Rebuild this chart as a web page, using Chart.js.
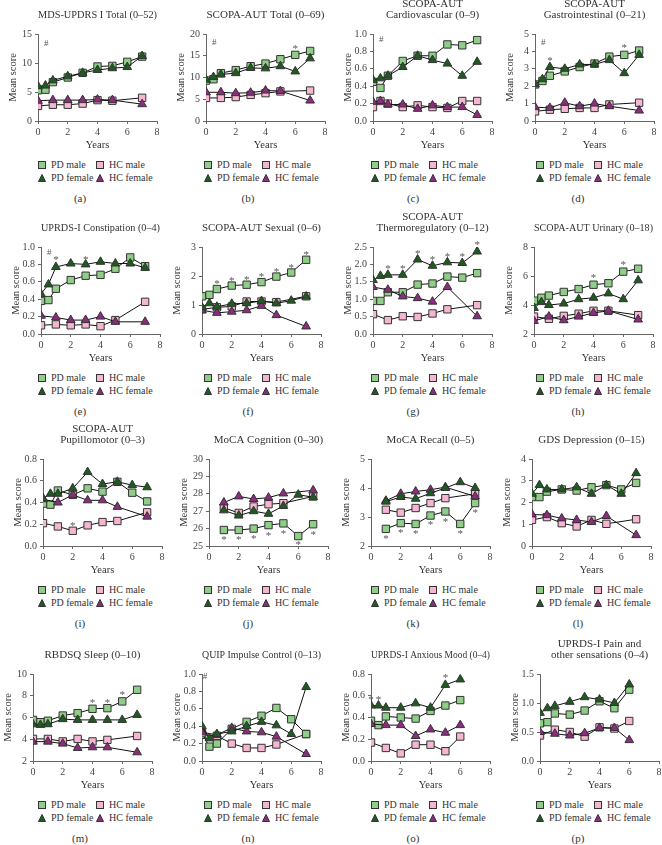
<!DOCTYPE html>
<html>
<head>
<meta charset="utf-8">
<script src="https://cdn.jsdelivr.net/npm/chart.js@4.4.1/dist/chart.umd.min.js"></script>
<style>
  body { margin: 0; background: #fff; }
  #fig { position: relative; width: 662px; height: 845px; overflow: hidden; font-family: "Liberation Serif", serif; color: #333; }
  #fig canvas { position: absolute; }
  .legend { position: absolute; display: grid; grid-template-columns: 58px auto; font-size: 10px; line-height: 13px; white-space: nowrap; }
  .legend svg { vertical-align: -1px; margin-right: 5px; }
  .caption { position: absolute; width: 40px; margin-left: -20px; text-align: center; font-size: 11px; line-height: 14px; }
</style>
</head>
<body>
<div id="fig"></div>
<script>
// visits: baseline, 6 months, then yearly
const years = [0, 0.5, 1, 2, 3, 4, 5, 6, 7];

// (a) MDS-UPDRS I Total
const updrsPdM = [5.3, 5.4, 6.7, 7.5, 8.3, 9.4, 9.5, 10.2, 11.1];
const updrsPdF = [6.0, 6.1, 7.0, 7.7, 8.3, 8.8, 9.1, 9.3, 11.2];
const updrsHcM = [2.6, null, 2.8, 2.8, 3.0, 3.6, 3.5, null, 4.0];
const updrsHcF = [3.5, null, 3.6, 3.6, 3.6, 3.7, 3.6, null, 2.9];
const updrsMarks = [['#', 0.55, 13.4]];

// (b) SCOPA-AUT Total
const scopaPdM = [9.3, 9.6, 11.0, 11.7, 12.6, 13.2, 14.2, 15.2, 16.1];
const scopaPdF = [9.5, 10.1, 10.7, 11.0, 12.2, 12.1, 12.6, 11.4, 14.4];
const scopaHcM = [5.3, null, 5.3, 5.5, 6.0, 6.4, 6.8, null, 7.0];
const scopaHcF = [6.6, null, 6.6, 6.4, 6.5, 7.0, 6.9, null, 4.7];
const scopaMarks = [['#', 0.55, 18.1], ['*', 6, 17.0]];

// (c) Cardiovascular
const cardioPdM = [0.45, 0.38, 0.52, 0.69, 0.75, 0.75, 0.88, 0.87, 0.93];
const cardioPdF = [0.47, 0.49, 0.52, 0.62, 0.75, 0.70, 0.66, 0.52, 0.68];
const cardioHcM = [0.16, 0.23, 0.20, 0.16, 0.18, 0.16, 0.15, 0.23, 0.23];
const cardioHcF = [0.22, 0.23, 0.19, 0.19, 0.14, 0.18, 0.16, 0.16, 0.07];
const cardioMarks = [['#', 0.55, 0.94]];

// (d) Gastrointestinal
const gastroPdM = [2.1, 2.3, 2.6, 2.85, 3.1, 3.3, 3.7, 3.8, 4.05];
const gastroPdF = [2.1, 2.4, 3.1, 3.0, 3.25, 3.25, 3.5, 2.75, 3.8];
const gastroHcM = [0.55, null, 0.65, 0.7, 0.75, 0.75, 0.95, null, 1.05];
const gastroHcF = [0.8, null, 0.75, 1.05, 0.85, 1.0, 0.85, null, 0.6];
const gastroMarks = [['#', 0.55, 4.5], ['*', 1, 3.55], ['*', 6, 4.3]];

// (e) Constipation
const constipPdM = [0.38, 0.39, 0.52, 0.62, 0.67, 0.68, 0.75, 0.88, 0.78];
const constipPdF = [0.46, 0.57, 0.77, 0.81, 0.80, 0.83, 0.81, 0.81, 0.76];
const constipHcM = [0.10, null, 0.11, 0.10, 0.11, 0.09, 0.16, null, 0.37];
const constipHcF = [0.21, null, 0.19, 0.16, 0.16, 0.20, 0.14, null, 0.14];
const constipMarks = [['#', 0.55, 0.94], ['*', 1, 0.87], ['*', 3, 0.87]];

// (f) Sexual
const sexualPdM = [1.3, 1.35, 1.55, 1.67, 1.7, 1.79, 1.98, 2.12, 2.56];
const sexualPdF = [0.92, 1.06, 0.94, 1.04, 1.06, 1.14, 1.06, 1.15, 1.29];
const sexualHcM = [0.85, null, 0.92, 0.95, 1.12, 1.12, 1.1, null, 1.3];
const sexualHcF = [0.82, null, 0.73, 0.77, 0.82, 0.97, 0.65, null, 0.26];
const sexualMarks = [['*', 1, 1.79], ['*', 2, 1.9], ['*', 3, 1.93], ['*', 4, 2.02], ['*', 5, 2.2], ['*', 6, 2.35], ['*', 7, 2.8]];

// (g) Thermoregulatory
const thermoPdM = [0.95, 0.95, 1.2, 1.2, 1.42, 1.45, 1.65, 1.62, 1.75];
const thermoPdF = [1.55, 1.67, 1.7, 1.7, 2.14, 1.96, 2.06, 2.04, 2.37];
const thermoHcM = [0.57, null, 0.4, 0.51, 0.49, 0.59, 0.71, null, 0.83];
const thermoHcF = [1.35, null, 1.27, 1.08, 1.03, 0.93, 1.35, null, 0.51];
const thermoMarks = [['*', 1, 1.92], ['*', 2, 1.92], ['*', 3, 2.36], ['*', 4, 2.18], ['*', 5, 2.28], ['*', 6, 2.27], ['*', 7, 2.6]];

// (h) Urinary
const urinaryPdM = [4.3, 4.5, 4.65, 4.9, 5.1, 5.4, 5.5, 6.3, 6.5];
const urinaryPdF = [3.8, 4.2, 4.0, 4.1, 4.4, 4.5, 4.8, 4.4, 5.7];
const urinaryHcM = [3.2, null, 3.05, 3.25, 3.4, 3.6, 3.6, null, 3.3];
const urinaryHcF = [2.9, null, 3.2, 2.95, 3.2, 3.45, 3.6, null, 3.0];
const urinaryMarks = [['*', 4, 6.0], ['*', 6, 6.9]];

// (i) Pupillomotor
const pupilPdM = [0.39, 0.38, 0.51, 0.47, 0.53, 0.50, 0.59, 0.49, 0.41];
const pupilPdF = [0.44, 0.48, 0.48, 0.53, 0.68, 0.57, 0.59, 0.56, 0.54];
const pupilHcM = [0.21, null, 0.18, 0.14, 0.19, 0.22, 0.23, null, 0.31];
const pupilHcF = [0.43, null, 0.40, 0.47, 0.42, 0.42, 0.36, null, 0.27];
const pupilMarks = [['*', 2, 0.2]];

// (j) MoCA Cognition
const mocaPdM = [null, null, 25.92, 25.92, 26.0, 26.2, 26.3, 25.57, 26.25];
const mocaPdF = [null, null, 27.05, 26.75, 27.0, 26.85, 27.3, 27.95, 27.8];
const mocaHcM = [null, null, 27.2, 26.9, 27.27, 27.4, 27.46, null, 27.85];
const mocaHcF = [null, null, 27.5, 27.85, 27.7, 27.78, 28.02, null, 28.2];
const mocaMarks = [['*', 1, 25.45], ['*', 2, 25.45], ['*', 3, 25.5], ['*', 4, 25.7], ['*', 5, 25.8], ['*', 6, 25.15], ['*', 7, 25.75]];

// (k) MoCA Recall
const recallPdM = [null, null, 2.59, 2.79, 2.76, 3.05, 3.19, 2.76, 3.48];
const recallPdF = [null, null, 3.53, 3.69, 3.63, 3.82, 4.0, 4.2, 4.0];
const recallHcM = [null, null, 3.25, 3.15, 3.31, 3.48, 3.65, null, 3.8];
const recallHcF = [null, null, 3.56, 3.8, 3.88, 3.94, 4.03, null, 3.71];
const recallMarks = [['*', 1, 2.3], ['*', 2, 2.5], ['*', 3, 2.47], ['*', 4, 2.78], ['*', 5, 2.9], ['*', 6, 2.47], ['*', 7, 3.2]];

// (l) GDS Depression
const gdsPdM = [2.25, 2.25, 2.5, 2.6, 2.55, 2.7, 2.8, 2.6, 2.9];
const gdsPdF = [2.4, 2.8, 2.6, 2.6, 2.7, 2.4, 2.8, 2.4, 3.35];
const gdsHcM = [1.2, null, 1.33, 1.05, 0.9, 1.2, 1.02, null, 1.23];
const gdsHcF = [1.45, null, 1.42, 1.27, 1.2, 1.1, 1.38, null, 0.5];
const gdsMarks = [];

// (m) RBDSQ Sleep
const sleepPdM = [5.78, 5.57, 5.7, 6.18, 6.4, 6.8, 6.86, 7.48, 8.55];
const sleepPdF = [5.38, 5.32, 5.38, 5.85, 5.78, 5.78, 5.78, 5.78, 6.24];
const sleepHcM = [4.03, null, 4.03, 3.8, 4.03, 3.8, 3.94, null, 4.3];
const sleepHcF = [3.78, null, 3.78, 3.6, 3.2, 3.26, 3.26, null, 2.8];
const sleepMarks = [['*', 4, 7.5], ['*', 5, 7.55], ['*', 6, 8.2]];

// (n) QUIP Impulse Control
const quipPdM = [0.32, 0.165, 0.20, 0.37, 0.45, 0.52, 0.61, 0.48, 0.31];
const quipPdF = [0.40, 0.26, 0.31, 0.34, 0.40, 0.45, 0.41, 0.31, 0.85];
const quipHcM = [0.30, null, 0.29, 0.20, 0.15, 0.15, 0.19, null, 0.31];
const quipHcF = [0.33, null, 0.30, 0.38, 0.34, 0.33, 0.28, null, 0.08];
const quipMarks = [['#', 0.2, 0.97]];

// (o) Anxious Mood
const anxPdM = [0.37, 0.33, 0.41, 0.40, 0.39, 0.46, 0.51, 0.56, null];
const anxPdF = [0.51, 0.51, 0.49, 0.49, 0.53, 0.49, 0.70, 0.75, null];
const anxHcM = [0.17, null, 0.12, 0.07, 0.15, 0.15, 0.09, 0.225, null];
const anxHcF = [0.34, null, 0.33, 0.33, 0.23, 0.29, 0.26, 0.33, null];
const anxMarks = [['*', 0, 0.58], ['*', 0.5, 0.58], ['*', 5, 0.78]];

// (p) Pain and other sensations
const painPdM = [0.65, 0.67, 0.82, 0.80, 0.87, 1.03, 0.91, 1.23, null];
const painPdF = [0.83, 0.91, 0.95, 1.02, 1.10, 1.06, 1.0, 1.32, null];
const painHcM = [0.44, null, 0.54, 0.5, 0.42, 0.58, 0.56, 0.69, null];
const painHcF = [0.5, null, 0.47, 0.44, 0.48, 0.57, 0.57, 0.36, null];
const painMarks = [];

const titles = [
  'MDS-UPDRS I Total (0–52)', 'SCOPA-AUT Total (0–69)', ['SCOPA-AUT', 'Cardiovascular (0–9)'], ['SCOPA-AUT', 'Gastrointestinal (0–21)'],
  'UPRDS-I Constipation (0–4)', 'SCOPA-AUT Sexual (0–6)', ['SCOPA-AUT', 'Thermoregulatory (0–12)'], 'SCOPA-AUT Urinary (0–18)',
  ['SCOPA-AUT', 'Pupillomotor (0–3)'], 'MoCA Cognition (0–30)', 'MoCA Recall (0–5)', 'GDS Depression (0–15)',
  'RBDSQ Sleep (0–10)', 'QUIP Impulse Control (0–13)', 'UPRDS-I Anxious Mood (0–4)', ['UPRDS-I Pain and', 'other sensations (0–4)']
];
const captions = ['(a)', '(b)', '(c)', '(d)', '(e)', '(f)', '(g)', '(h)', '(i)', '(j)', '(k)', '(l)', '(m)', '(n)', '(o)', '(p)'];
const yMins = [0, 0, 0, 0, 0, 0, 0, 2, 0, 25, 2, 0, 2, 0, 0, 0];
const yMaxs = [15, 20, 1, 5, 1, 3, 2.5, 8, 0.8, 30, 5, 4, 10, 1, 0.8, 1.5];
const ySteps = [5, 5, 0.2, 1, 0.2, 1, 0.5, 2, 0.2, 1, 1, 1, 2, 0.2, 0.2, 0.5];
const yDecimals = [0, 0, 1, 0, 1, 0, 1, 0, 1, 0, 0, 0, 0, 1, 1, 1];
const seriesNames = ['PD male', 'PD female', 'HC male', 'HC female'];

const panelSeries = [
  [updrsPdM, updrsPdF, updrsHcM, updrsHcF], [scopaPdM, scopaPdF, scopaHcM, scopaHcF],
  [cardioPdM, cardioPdF, cardioHcM, cardioHcF], [gastroPdM, gastroPdF, gastroHcM, gastroHcF],
  [constipPdM, constipPdF, constipHcM, constipHcF], [sexualPdM, sexualPdF, sexualHcM, sexualHcF],
  [thermoPdM, thermoPdF, thermoHcM, thermoHcF], [urinaryPdM, urinaryPdF, urinaryHcM, urinaryHcF],
  [pupilPdM, pupilPdF, pupilHcM, pupilHcF], [mocaPdM, mocaPdF, mocaHcM, mocaHcF],
  [recallPdM, recallPdF, recallHcM, recallHcF], [gdsPdM, gdsPdF, gdsHcM, gdsHcF],
  [sleepPdM, sleepPdF, sleepHcM, sleepHcF], [quipPdM, quipPdF, quipHcM, quipHcF],
  [anxPdM, anxPdF, anxHcM, anxHcF], [painPdM, painPdF, painHcM, painHcF]
];
const panelMarks = [updrsMarks, scopaMarks, cardioMarks, gastroMarks, constipMarks, sexualMarks, thermoMarks, urinaryMarks,
  pupilMarks, mocaMarks, recallMarks, gdsMarks, sleepMarks, quipMarks, anxMarks, painMarks];

// layout (pixels)
const axisX = [38, 206, 373, 535, 41, 202, 373, 534, 43, 209, 371, 532, 33, 202, 371, 540];
const rowTop = [0, 213, 425, 640];
const legendX = [38, 204, 371, 536];
const captionX = [80, 248, 413, 578];
const Y_AXIS_W = 34;

const styles = [
  { pointStyle: 'rect', radius: 5.2, fill: '#8fcd88', order: 2 },
  { pointStyle: 'triangle', radius: 5, fill: '#1e5b1e', order: 0 },
  { pointStyle: 'rect', radius: 5.2, fill: '#f6b6d2', order: 3 },
  { pointStyle: 'triangle', radius: 5, fill: '#8e2b80', order: 1 }
];

const serif = '"Liberation Serif", "Times New Roman", serif';
Chart.defaults.font.family = serif;

const sigMarks = {
  id: 'sigMarks',
  afterDatasetsDraw(chart, args, opts) {
    const { ctx, scales: { x, y } } = chart;
    ctx.save();
    ctx.fillStyle = '#555';
    ctx.textAlign = 'center';
    ctx.textBaseline = 'middle';
    (opts.marks || []).forEach(([sym, vx, vy]) => {
      ctx.font = (sym === '#' ? '9px ' : '11px ') + serif;
      ctx.fillText(sym, x.getPixelForValue(vx), y.getPixelForValue(vy) + (sym === '*' ? 2 : 0));
    });
    ctx.restore();
  }
};

function markerSvg(s) {
  const shape = s.pointStyle === 'rect'
    ? `<rect x="0.5" y="0.5" width="7" height="7" fill="${s.fill}" stroke="#333"/>`
    : `<polygon points="4,0.5 7.5,7.5 0.5,7.5" fill="${s.fill}" stroke="#333"/>`;
  return `<svg width="8" height="8">${shape}</svg>`;
}

const fig = document.getElementById('fig');

titles.forEach((title, i) => {
  const row = Math.floor(i / 4);
  const col = i % 4;
  const top = rowTop[row];

  const canvas = document.createElement('canvas');
  canvas.width = 161;
  canvas.height = 155;
  canvas.style.left = (axisX[i] - Y_AXIS_W) + 'px';
  canvas.style.top = top + 'px';
  fig.appendChild(canvas);

  const lines = Array.isArray(title) ? title.length : 1;
  const datasets = panelSeries[i].map((vals, k) => ({
    label: seriesNames[k],
    data: years.map((x, j) => ({ x, y: vals[j] })).filter(p => p.y !== null),
    borderColor: '#111',
    borderWidth: 1,
    pointStyle: styles[k].pointStyle,
    pointRadius: styles[k].radius,
    pointBackgroundColor: styles[k].fill,
    pointBorderColor: '#333',
    pointBorderWidth: 1,
    order: styles[k].order,
    tension: 0
  }));

  const dec = yDecimals[i];
  new Chart(canvas, {
    type: 'line',
    data: { datasets },
    options: {
      responsive: false,
      animation: false,
      devicePixelRatio: 1,
      layout: { padding: { right: 8 } },
      plugins: {
        legend: { display: false },
        tooltip: { enabled: false },
        title: {
          display: true,
          fullSize: false,
          text: title,
          color: '#333',
          font: { size: 11, weight: 'normal', lineHeight: 1.0 },
          padding: { top: lines === 2 ? -1.5 : 9.5, bottom: 13.5 }
        },
        sigMarks: { marks: panelMarks[i] }
      },
      scales: {
        x: {
          type: 'linear',
          min: 0,
          max: 8,
          ticks: { stepSize: 2, color: '#444', font: { size: 10 }, padding: 2, maxRotation: 0 },
          grid: { drawOnChartArea: false, tickLength: 3, tickColor: '#666' },
          border: { color: '#666' },
          title: { display: true, text: 'Years', color: '#333', font: { size: 10.5 }, padding: { top: 0, bottom: 3 } },
          afterFit: s => { s.height = 34; }
        },
        y: {
          min: yMins[i],
          max: yMaxs[i],
          ticks: { stepSize: ySteps[i], color: '#444', font: { size: 10 }, padding: 3, callback: v => v.toFixed(dec) },
          grid: { drawOnChartArea: false, tickLength: 3, tickColor: '#666' },
          border: { color: '#666' },
          title: { display: true, text: 'Mean score', color: '#333', font: { size: 10.5 }, padding: { top: 3, bottom: 0 } },
          afterFit: s => { s.width = Y_AXIS_W; }
        }
      }
    },
    plugins: [sigMarks]
  });

  const legend = document.createElement('div');
  legend.className = 'legend';
  legend.style.left = legendX[col] + 'px';
  legend.style.top = (top + 158) + 'px';
  legend.innerHTML = [0, 2, 1, 3].map(k => `<span>${markerSvg(styles[k])}${seriesNames[k]}</span>`).join('');
  fig.appendChild(legend);

  const cap = document.createElement('div');
  cap.className = 'caption';
  cap.style.left = captionX[col] + 'px';
  cap.style.top = (top + 191) + 'px';
  cap.textContent = captions[i];
  fig.appendChild(cap);
});
</script>
</body>
</html>
